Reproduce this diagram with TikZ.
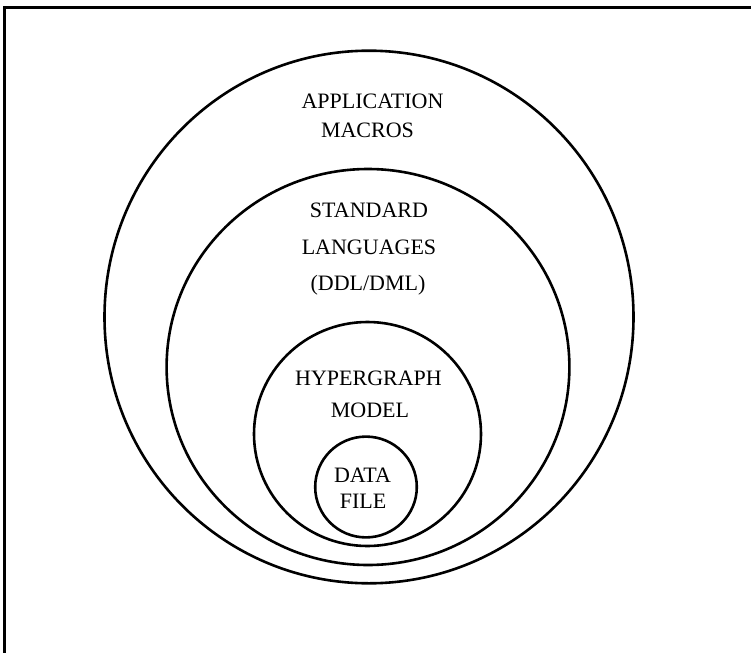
\documentclass[tikz,border=0pt]{standalone}
\usepackage{fontspec}
\setmainfont{Liberation Serif}
\begin{document}
\begin{tikzpicture}[x=1bp,y=-1bp,
  ring/.style={line width=2.6bp},
  frameline/.style={line width=3bp},
  lbl/.style={anchor=base,inner sep=0pt,font=\fontsize{22bp}{26bp}\selectfont}]
\useasboundingbox (0,0) rectangle (751,653);
\fill[white] (0,0) rectangle (751,653);
% frame (top and left edges)
\coordinate (fbl) at (4.5,653);
\coordinate (ftl) at (4.5,7.5);
\coordinate (ftr) at (751,7.5);
\draw[frameline] (fbl) -- (ftl) -- (ftr);
% nested layers
\coordinate (c1) at (369,317);
\coordinate (c2) at (368,367);
\coordinate (c3) at (367.5,434);
\coordinate (c4) at (366,487);
\draw[ring] (c1) ellipse [x radius=264.5, y radius=266.3];
\draw[ring] (c2) ellipse [x radius=201.4, y radius=198];
\draw[ring] (c3) ellipse [x radius=113.5, y radius=112];
\draw[ring] (c4) ellipse [x radius=50.8, y radius=50.4];
% labels
\node[lbl] (app)  at (372.5,109) {APPLICATION};
\node[lbl] (mac)  at (367.5,138) {MACROS};
\node[lbl] (std)  at (369,217) {STANDARD};
\node[lbl] (lang) at (369,254) {LANGUAGES};
\node[lbl] (ddl)  at (368,290) {(DDL/DML)};
\node[lbl] (hyp)  at (368.5,385) {HYPERGRAPH};
\node[lbl] (mod)  at (370,417) {MODEL};
\node[lbl] (dat)  at (362.5,482) {DATA};
\node[lbl] (fil)  at (363,508) {FILE};
\end{tikzpicture}
\end{document}
